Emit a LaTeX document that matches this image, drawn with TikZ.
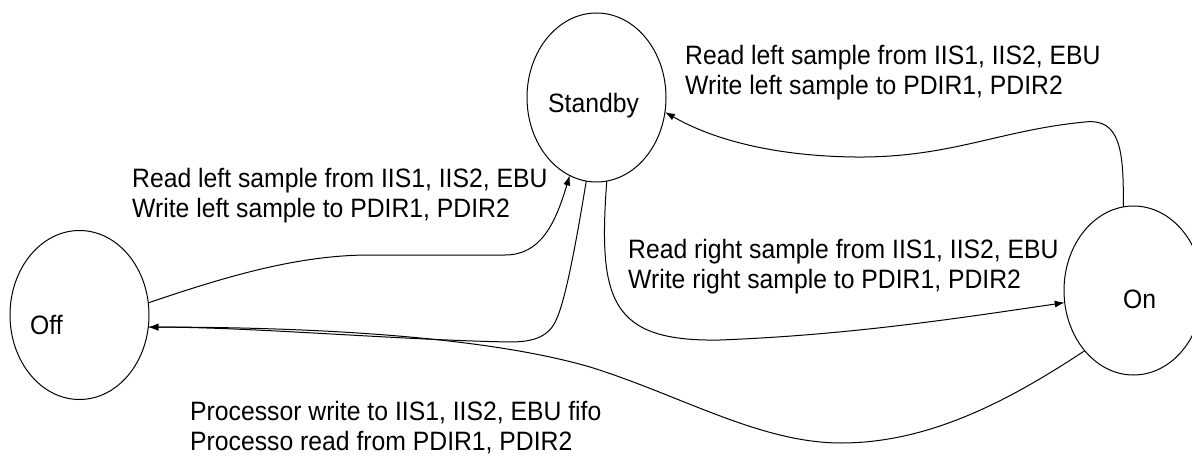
\documentclass[tikz,border=0pt]{standalone}
\usepackage{fontspec}
\setmainfont[FakeStretch=0.93]{Liberation Sans}
\usetikzlibrary{arrows.meta,shapes.geometric}
\begin{document}
\begin{tikzpicture}[x=1pt,y=-1pt,
  state/.style={draw,ellipse,line width=1pt,minimum width=139pt,minimum height=169pt,inner sep=0pt,outer sep=0pt},
  lbl/.style={anchor=base west,align=left,inner sep=0pt,font=\fontsize{26.6}{30}\selectfont},
  conn/.style={line width=1pt,-{Latex[length=10pt,width=7pt]}}]
\clip (0,0) rectangle (1192,468);
\fill[white] (0,0) rectangle (1192,468);
% states
\node[state] (off) at (79.5,315) {};
\node[state] (standby) at (596.5,97.5) {};
\node[state] (on) at (1133.5,290.5) {};
\node[lbl] (offtxt) at (30,334) {Off};
\node[lbl] (sbtxt) at (548,113) {Standby};
\node[lbl] (ontxt) at (1123,308) {On};
% labels (anchor = baseline of last line)
\node[lbl] (l1) at (132,217) {Read left sample from IIS1, IIS2, EBU\\Write left sample to PDIR1, PDIR2};
\node[lbl] (l2) at (685,95) {Read left sample from IIS1, IIS2, EBU\\Write left sample to PDIR1, PDIR2};
\node[lbl] (l3) at (628,288) {Read right sample from IIS1, IIS2, EBU\\Write right sample to PDIR1, PDIR2};
\node[lbl] (l4) at (190,450) {Processor write to IIS1, IIS2, EBU fifo\\Processo read from PDIR1, PDIR2};
% connectors
\draw[conn] (off.10) .. controls (230,275) and (300,255) .. (370,255) -- (505,255) .. controls (540,255) and (555,225) .. (standby.-109);
\draw[conn] (standby.-97) .. controls (575,250) and (565,300) .. (557,318) .. controls (550,336) and (535,342) .. (510,342) .. controls (400,340) and (250,327) .. (off.-10);
\draw[conn] (standby.-83) .. controls (598,300) and (610,342) .. (720,340) .. controls (850,335) and (960,318) .. (on.190);
\draw[conn] (on.97) .. controls (1124,150) and (1120,118) .. (1085,122) .. controls (1000,130) and (950,158) .. (855,157) .. controls (770,156) and (710,138) .. (standby.-12);
\draw[conn] (on.-129) .. controls (1010,400) and (930,443) .. (841,443) .. controls (760,443) and (680,395) .. (590,367) .. controls (480,335) and (300,327) .. (off.-10);
\end{tikzpicture}
\end{document}
